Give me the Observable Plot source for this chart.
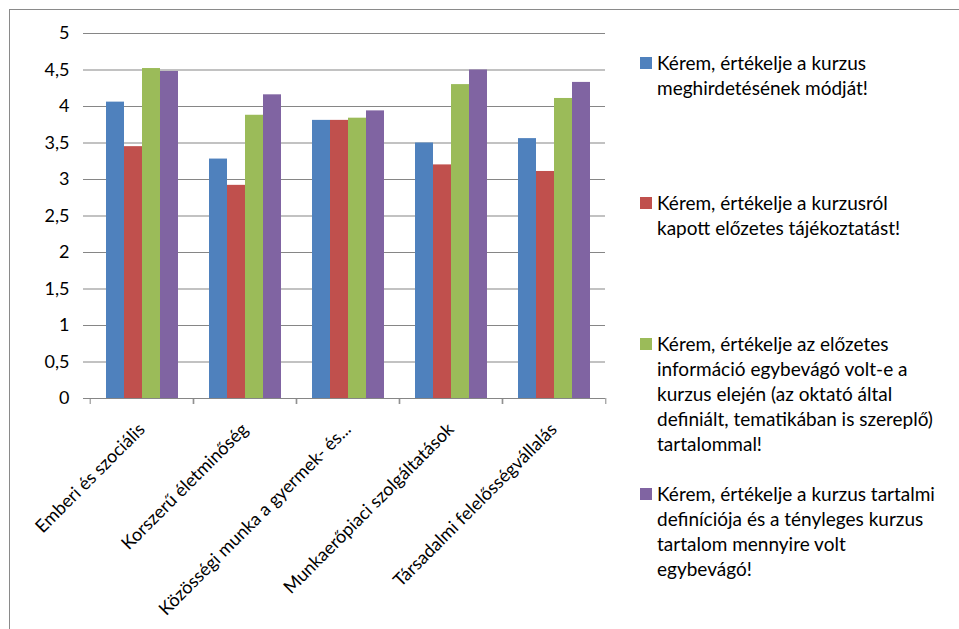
<!DOCTYPE html>
<html>
<head>
<meta charset="utf-8">
<script src="https://cdn.jsdelivr.net/npm/d3@7"></script>
<script src="https://cdn.jsdelivr.net/npm/@observablehq/plot@0.6"></script>
<style>
  html, body { margin: 0; padding: 0; background: #fff; }
  #wrap { position: relative; width: 959px; height: 629px; overflow: hidden; font-family: "Lato", sans-serif; }
  #border { position: absolute; left: 9px; top: 9px; right: -5px; bottom: -5px; border-top: 1.5px solid #8a8a8a; border-left: 1.5px solid #8a8a8a; }
  #chart { position: absolute; left: 0; top: 0; }
  .item { position: absolute; left: 640px; font-size: 19px; line-height: 25px; color: #000; }
  .sw { position: absolute; left: 0; top: 7px; width: 12px; height: 12px; }
  .txt { position: absolute; left: 17px; top: 0; white-space: pre; }
</style>
</head>
<body>
<div id="wrap">
  <div id="border"></div>
  <div id="chart"></div>
  <div id="legend"></div>
</div>
<script>
const categories = [
  "Emberi és szociális",
  "Korszerű életminőség",
  "Közösségi munka a gyermek- és...",
  "Munkaerőpiaci szolgáltatások",
  "Társadalmi felelősségvállalás"
];
const series = [
  "Kérem, értékelje a kurzus\nmeghirdetésének módját!",
  "Kérem, értékelje a kurzusról\nkapott előzetes tájékoztatást!",
  "Kérem, értékelje az előzetes\ninformáció egybevágó volt-e a\nkurzus elején (az oktató által\ndefiniált, tematikában is szereplő)\ntartalommal!",
  "Kérem, értékelje a kurzus tartalmi\ndefiníciója és a tényleges kurzus\ntartalom mennyire volt\negybevágó!"
];
const blue   = [4.06, 3.28, 3.81, 3.50, 3.56];
const red    = [3.45, 2.92, 3.81, 3.20, 3.11];
const green  = [4.52, 3.88, 3.84, 4.30, 4.11];
const purple = [4.48, 4.16, 3.94, 4.50, 4.33];
const yTicks = [0, 0.5, 1, 1.5, 2, 2.5, 3, 3.5, 4, 4.5, 5];
const colors = ["#4F81BD", "#C0504D", "#9BBB59", "#8064A2"];

const values = [blue, red, green, purple];
const data = categories.flatMap((c, i) => series.map((s, j) => ({category: c, series: s, value: values[j][i]})));

const W = 620, H = 629, mL = 88, mR = 14;
const step = (W - mL - mR) / categories.length;
const grid = "#868686";
const fmt = d => String(d).replace(".", ",");

const chart = Plot.plot({
  width: W, height: H,
  marginTop: 33, marginBottom: H - 398, marginLeft: mL, marginRight: mR,
  style: {background: "transparent", fontFamily: "Lato, sans-serif", color: "#000"},
  fx: {domain: categories, padding: 0, label: null},
  x: {domain: series, paddingInner: 0, paddingOuter: 0.726, axis: null},
  y: {domain: [0, 5], label: null},
  color: {domain: series, range: colors},
  marks: [
    Plot.gridY(yTicks, {stroke: grid, strokeOpacity: 1, strokeWidth: 1.2}),
    Plot.barY(data, {fx: "category", x: "series", y: "value", fill: "series"}),
    Plot.ruleY([0], {stroke: grid, strokeWidth: 1.2}),
    Plot.axisY(yTicks, {tickSize: 7, tickPadding: 14, tickFormat: fmt, line: true, stroke: grid, fill: "#000", fontSize: 18, label: null}),
    Plot.axisFx({anchor: "bottom", tickSize: 0, tickRotate: -45, tickPadding: 28, fontSize: 18, fill: "#000", label: null}),
    Plot.axisFx({anchor: "bottom", text: null, tickSize: 6, dx: -step / 2, stroke: grid, label: null}),
    Plot.axisFx([categories[categories.length - 1]], {anchor: "bottom", text: null, tickSize: 6, dx: step / 2, stroke: grid, label: null})
  ]
});
document.getElementById("chart").appendChild(chart);

const tops = [49.5, 189.5, 330.5, 480.5];
const legend = document.getElementById("legend");
series.forEach((s, i) => {
  const it = document.createElement("div");
  it.className = "item";
  it.style.top = tops[i] + "px";
  const sw = document.createElement("div");
  sw.className = "sw";
  sw.style.background = colors[i];
  const t = document.createElement("div");
  t.className = "txt";
  t.textContent = s;
  it.appendChild(sw); it.appendChild(t);
  legend.appendChild(it);
});
</script>
</body>
</html>
